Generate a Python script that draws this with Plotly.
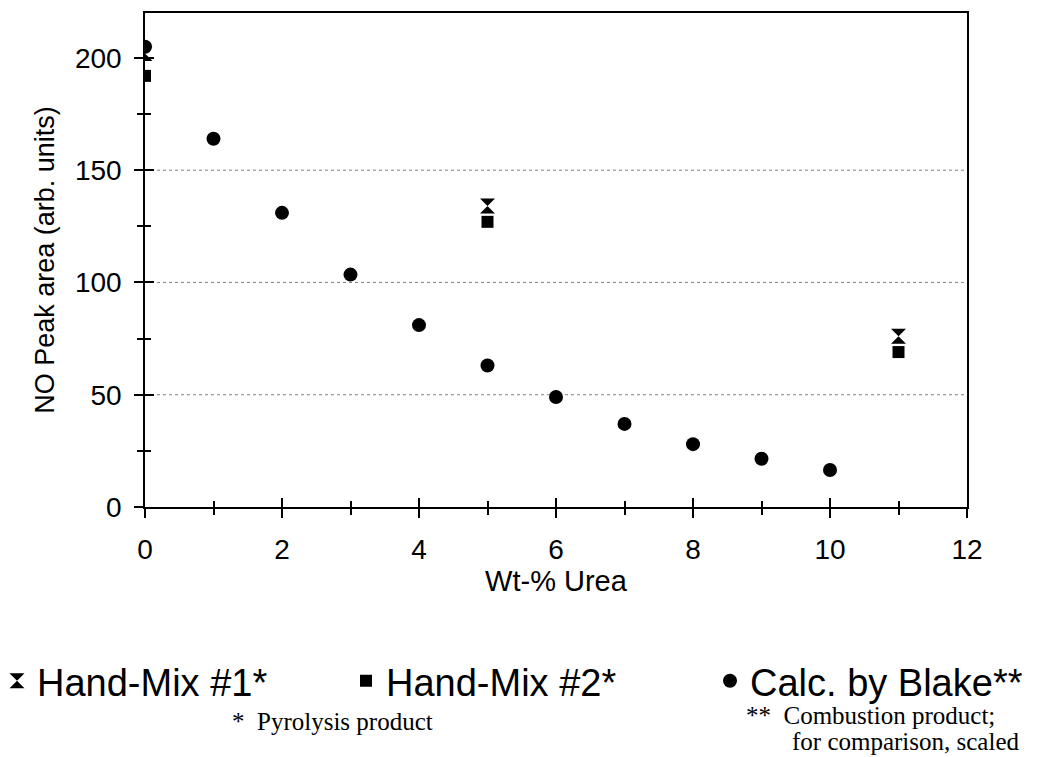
import plotly.graph_objects as go

# ---- data ----
hm1_x = [0, 5, 11]
hm1_y = [202, 134, 76]
hm2_x = [0, 5, 11]
hm2_y = [192, 127, 69]
blake_x = [0, 1, 2, 3, 4, 5, 6, 7, 8, 9, 10]
blake_y = [205, 164, 131, 103.5, 81, 63, 49, 37, 28, 21.5, 16.5]
grid_levels = [50, 100, 150]
x_major = [0, 2, 4, 6, 8, 10, 12]
y_major = [0, 50, 100, 150, 200]

FONT = "Arial, Liberation Sans, sans-serif"
SERIF = "Times New Roman, Liberation Serif, serif"

fig = go.Figure()
fig.add_trace(go.Scatter(x=hm1_x, y=hm1_y, mode="markers", name="Hand-Mix #1*", legend="legend",
                         marker=dict(symbol="hourglass", size=15, color="black")))
fig.add_trace(go.Scatter(x=hm2_x, y=hm2_y, mode="markers", name="Hand-Mix #2*", legend="legend2",
                         marker=dict(symbol="square", size=12, color="black")))
fig.add_trace(go.Scatter(x=blake_x, y=blake_y, mode="markers", name="Calc. by Blake**", legend="legend3",
                         marker=dict(symbol="circle", size=14, color="black")))
# helper trace for the inner half of the crossing ticks
fig.add_trace(go.Scatter(x=[], y=[], xaxis="x2", yaxis="y2", showlegend=False,
                         hoverinfo="skip"))

OFF = 8  # page body margin of the html page
W, H = 1042, 749
# plot-area edges as they should appear on screen
SL, ST, SR, SB = 145, 13, 967, 507
L, T = SL - OFF, ST - OFF
R, B = W - (SR - OFF), H - (SB - OFF)
pw, ph = W - L - R, H - T - B


def px(x):
    return (x - OFF - L) / pw


def py(y):
    return (H - B - (y - OFF)) / ph


for g in grid_levels:
    fig.add_shape(type="line", xref="paper", yref="y", x0=0, x1=1, y0=g, y1=g,
                  line=dict(color="#808080", width=1, dash="dot"), layer="below")

axis_common = dict(showgrid=False, zeroline=False, tickcolor="black", tickwidth=1.5,
                   automargin=False)

leg_common = dict(orientation="h", yanchor="middle", xanchor="left",
                  font=dict(size=38, family=FONT), bgcolor="rgba(0,0,0,0)")

fig.update_layout(
    width=W, height=H,
    margin=dict(l=L, r=R, t=T, b=B, autoexpand=False),
    plot_bgcolor="white", paper_bgcolor="white",
    font=dict(family=FONT, color="black"),
    xaxis=dict(range=[0, 12], tickvals=x_major, ticks="outside", ticklen=9,
               minor=dict(dtick=1, ticks="outside", ticklen=6, tickcolor="black", tickwidth=1.5),
               showline=True, linecolor="black", linewidth=1.5, mirror=True,
               tickfont=dict(size=28, family=FONT), ticklabelstandoff=8,
               title=dict(text="Wt-% Urea", font=dict(size=29, family=FONT), standoff=5),
               **axis_common),
    yaxis=dict(range=[0, 220], tickvals=y_major, ticks="outside", ticklen=9,
               minor=dict(dtick=25, ticks="outside", ticklen=6, tickcolor="black", tickwidth=1.5),
               showline=True, linecolor="black", linewidth=1.5, mirror=True,
               tickfont=dict(size=28, family=FONT), ticklabelstandoff=7,
               title=dict(text="NO Peak area (arb. units)", font=dict(size=27, family=FONT), standoff=12),
               **axis_common),
    xaxis2=dict(overlaying="x", anchor="y", side="bottom", range=[0, 12], tickvals=x_major,
                ticks="inside", ticklen=9, showticklabels=False, showline=False,
                minor=dict(dtick=1, ticks="inside", ticklen=6, tickcolor="black", tickwidth=1.5),
                **axis_common),
    yaxis2=dict(overlaying="y", anchor="x", side="left", range=[0, 220], tickvals=y_major,
                ticks="inside", ticklen=9, showticklabels=False, showline=False,
                minor=dict(dtick=25, ticks="inside", ticklen=6, tickcolor="black", tickwidth=1.5),
                **axis_common),
    legend=dict(x=px(-3), y=py(681), **leg_common),
    legend2=dict(x=px(346), y=py(681), **leg_common),
    legend3=dict(x=px(710), y=py(681), **leg_common),
    showlegend=True,
)

fig.add_annotation(text="*  Pyrolysis product", xref="paper", yref="paper",
                   x=px(230), y=py(721), xanchor="left", yanchor="middle", showarrow=False,
                   font=dict(family=SERIF, size=25))
fig.add_annotation(text="**  Combustion product;", xref="paper", yref="paper",
                   x=px(744), y=py(715), xanchor="left", yanchor="middle", showarrow=False,
                   font=dict(family=SERIF, size=25))
fig.add_annotation(text="for comparison, scaled", xref="paper", yref="paper",
                   x=px(790), y=py(741), xanchor="left", yanchor="middle", showarrow=False,
                   font=dict(family=SERIF, size=25))

fig.write_html("out.html")
